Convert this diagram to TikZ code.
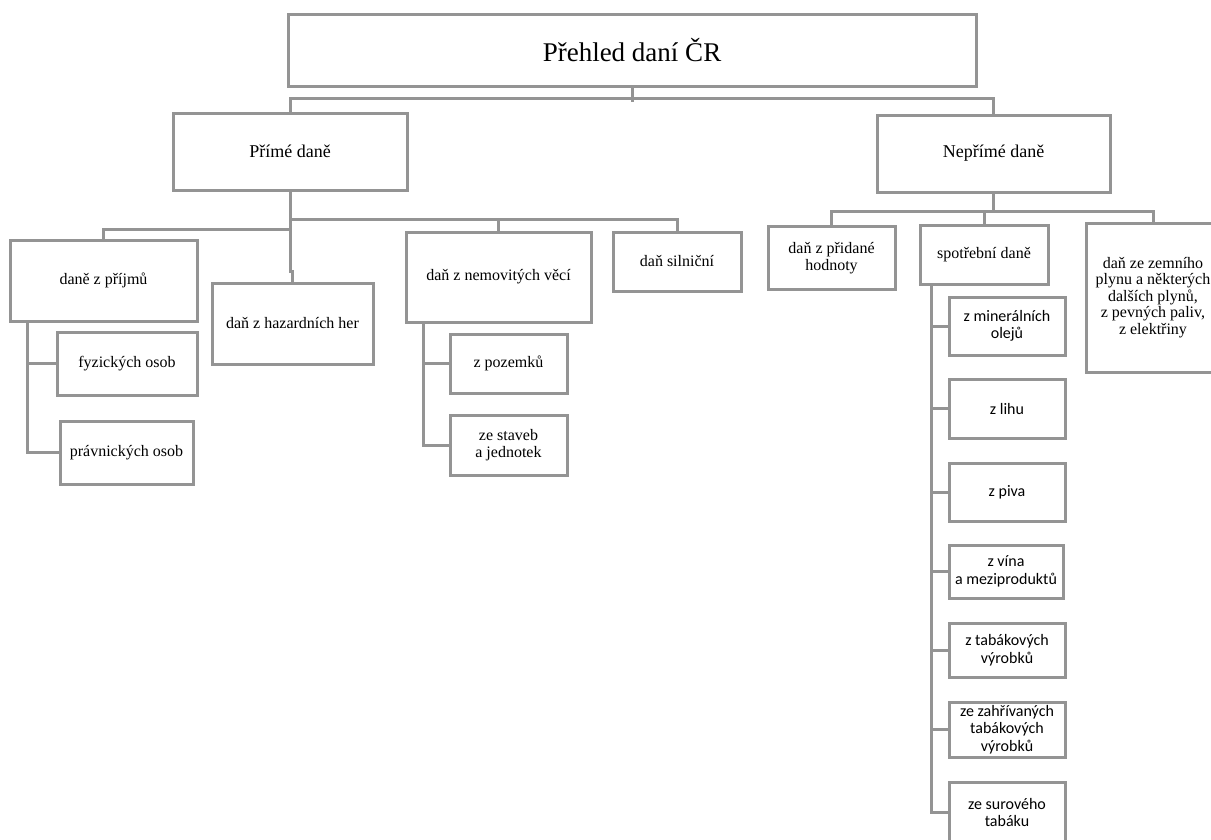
\documentclass[tikz,border=0pt]{standalone}
\usepackage{fontspec}
\setmainfont{Liberation Serif}
\newfontfamily\calib{Carlito}
\usetikzlibrary{calc}
\definecolor{boxgray}{RGB}{148,148,148}
\begin{document}
\begin{tikzpicture}[x=1pt,y=-1pt,
  bx/.style={draw=boxgray,line width=3pt,inner sep=0pt,align=center,font=\fontsize{16}{16.5}\selectfont},
  sb/.style={bx,font=\calib\fontsize{16}{17.5}\selectfont},
  ln/.style={draw=boxgray,line width=3pt}]
\clip (0,0) rectangle (1211,839);
\fill[white] (0,0) rectangle (1211,839);
% level 0
\node[bx,minimum width=688pt,minimum height=72pt,font=\fontsize{27}{30}\selectfont] (top) at (632,50) {Přehled daní ČR};
% level 1
\node[bx,minimum width=234pt,minimum height=77pt,font=\fontsize{18}{20}\selectfont] (prime) at (290,151.5) {Přímé daně};
\node[bx,minimum width=233pt,minimum height=77pt,font=\fontsize{18}{20}\selectfont] (nep) at (993.5,153.5) {Nepřímé daně};
% direct taxes
\node[bx,minimum width=187pt,minimum height=81pt] (prijmy) at (103.5,280.5) {daně z příjmů};
\node[bx,minimum width=140pt,minimum height=63pt] (fyz) at (127,363.5) {fyzických osob};
\node[bx,minimum width=133pt,minimum height=63pt] (prav) at (126.5,452.5) {právnických osob};
\node[bx,minimum width=161pt,minimum height=81pt] (hazard) at (292.5,323.5) {daň z hazardních her};
\node[bx,minimum width=185pt,minimum height=90pt] (nemovit) at (498.5,277) {daň z nemovitých věcí};
\node[bx,minimum width=117pt,minimum height=59pt] (pozemky) at (508.5,363.5) {z pozemků};
\node[bx,minimum width=117pt,minimum height=60pt] (stavby) at (508.5,445) {ze staveb\\a jednotek};
\node[bx,minimum width=128pt,minimum height=59pt] (silnicni) at (677,261.5) {daň silniční};
% indirect taxes
\node[bx,minimum width=127pt,minimum height=63pt] (dph) at (831.5,258) {daň z přidané\\hodnoty};
\node[bx,minimum width=128pt,minimum height=59pt] (spotreb) at (984,254.5) {spotřební daně};
\node[bx,minimum width=134pt,minimum height=149pt] (third) at (1153,297.5) {daň ze zemního\\plynu a některých\\dalších plynů,\\z pevných paliv,\\z elektřiny};
% excise taxes
\node[sb,minimum width=116pt,minimum height=58pt] (olej) at (1007,326) {z minerálních\\olejů};
\node[sb,minimum width=116pt,minimum height=59pt] (lih) at (1007,408.5) {z lihu};
\node[sb,minimum width=116pt,minimum height=58pt] (pivo) at (1007,492) {z piva};
\node[sb,minimum width=114pt,minimum height=53pt] (vino) at (1006,571.5) {z vína\\a meziproduktů};
\node[sb,minimum width=116pt,minimum height=54pt] (tabak) at (1007,650) {z tabákových\\výrobků};
\node[sb,minimum width=116pt,minimum height=55pt] (zahriv) at (1007,729.5) {ze zahřívaných\\tabákových\\výrobků};
\node[sb,minimum width=116pt,minimum height=60pt] (surovy) at (1007,812.5) {ze surového\\tabáku};
% connectors
\draw[ln] (top.south) -- ++(0,14);
\draw[ln] (prime.north) -- ++(0,-13) -| (nep.north);
\draw[ln] (prime.south) -- ++(0,28) coordinate (pb) -| (silnicni.north);
\draw[ln] (pb) -| (nemovit.north);
\draw[ln] (prime.south) -- ++(0,38) -| (prijmy.north);
\draw[ln] (prime.south) -- ++(0,80) -| (hazard.north);
\draw[ln] ($(prijmy.south west)+(19,0)$) coordinate (pj) |- (fyz.west);
\draw[ln] (pj) |- (prav.west);
\draw[ln] ($(nemovit.south west)+(19,0)$) coordinate (nm) |- (pozemky.west);
\draw[ln] (nm) |- (stavby.west);
\draw[ln] (nep.south) -- ++(0,18) coordinate (nb) -| (dph.north);
\draw[ln] (nb) -| (spotreb.north);
\draw[ln] (nb) -| (third.north);
\draw[ln] ($(spotreb.south west)+(13,0)$) coordinate (sp) |- (olej.west);
\draw[ln] (sp) |- (lih.west);
\draw[ln] (sp) |- (pivo.west);
\draw[ln] (sp) |- (vino.west);
\draw[ln] (sp) |- (tabak.west);
\draw[ln] (sp) |- (zahriv.west);
\draw[ln] (sp) |- (surovy.west);
\end{tikzpicture}
\end{document}
